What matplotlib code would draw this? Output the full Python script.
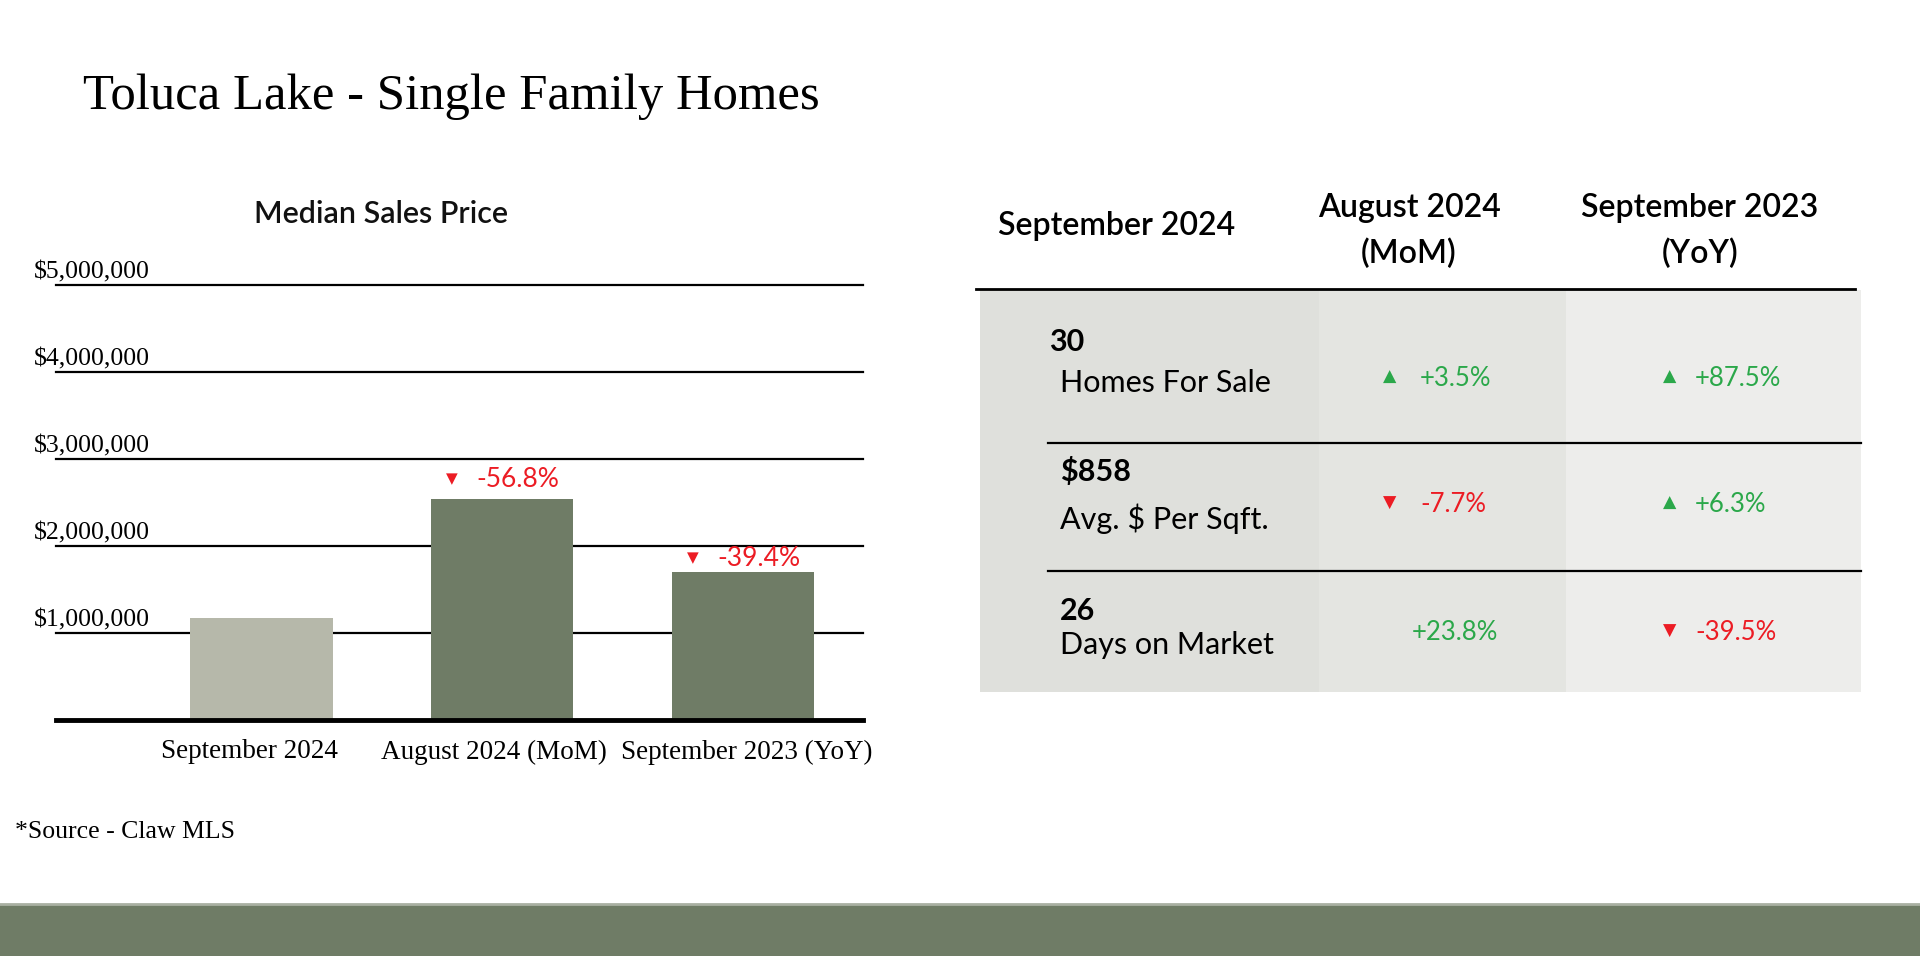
import matplotlib
matplotlib.use("Agg")
import matplotlib.pyplot as plt
from matplotlib.patches import Rectangle

# chart data
categories = ["September 2024", "August 2024 (MoM)", "September 2023 (YoY)"]
prices = [1170000, 2540000, 1700000]
price_changes = [None, "-56.8%", "-39.4%"]
y_ticks = [1000000, 2000000, 3000000, 4000000, 5000000]

# table data
headers = [["September 2024"], ["August 2024", "(MoM)"], ["September 2023", "(YoY)"]]
metric_values = ["30", "$858", "26"]
metric_names = ["Homes For Sale", "Avg. $ Per Sqft.", "Days on Market"]
mom_changes = ["+3.5%", "-7.7%", "+23.8%"]
mom_arrows = ["up", "down", None]
yoy_changes = ["+87.5%", "+6.3%", "-39.5%"]
yoy_arrows = ["up", "up", "down"]

olive = "#6f7c66"
light_bar = "#b6b8aa"
green = "#2ba84a"
red = "#ec1c24"
serif = "Liberation Serif"
sans = "Lato"

W, H = 1920, 956
fig = plt.figure(figsize=(W / 100, H / 100), dpi=100)
fig.patch.set_facecolor("white")

# layout axes in pixel coords (y down)
lay = fig.add_axes([0, 0, 1, 1], zorder=0)
lay.set_xlim(0, W)
lay.set_ylim(H, 0)
lay.axis("off")

lay.text(83, 109, "Toluca Lake - Single Family Homes", fontsize=36.5, family=serif,
         va="baseline", ha="left", color="black")
lay.text(381, 223, "Median Sales Price", fontsize=22, family=sans, fontweight="semibold",
         va="baseline", ha="center", color="#111111")
lay.text(15, 838, "*Source - Claw MLS", fontsize=18.5, family=serif, va="baseline", ha="left")

# bottom band
lay.add_patch(Rectangle((0, 904), W, H - 904, color=olive, lw=0))
lay.plot([0, W], [904, 904], color="#a9b0a2", lw=2)

# ---- bar chart ----
ax = fig.add_axes([56 / W, 1 - 720 / H, 807 / W, 435 / H], zorder=2)
ax.patch.set_alpha(0)
xs = list(range(len(categories)))
colors = [light_bar, olive, olive]
for y in y_ticks:
    ax.axhline(y, color="black", lw=1.6, zorder=1, clip_on=False)
ax.axhline(0, color="black", lw=3.5, zorder=3, clip_on=False)
ax.bar(xs, prices, width=0.593, color=colors, zorder=2)
ax.set_xlim(-0.851, 2.498)
ax.set_ylim(0, 5000000)
for s in ax.spines.values():
    s.set_visible(False)
ax.set_yticks([])
ax.set_xticks(xs)
ax.set_xticklabels(categories, fontsize=19.5, family=serif)
ax.tick_params(axis="x", length=0, pad=14)
label_shift = [-12, -8, 4]
for lbl, dx in zip(ax.get_xticklabels(), label_shift):
    lbl.set_transform(lbl.get_transform() + matplotlib.transforms.Affine2D().translate(dx, 0))

for y in y_ticks:
    ax.annotate("${:,}".format(y), xy=(0, y), xycoords=("axes fraction", "data"),
                xytext=(-22, 2), textcoords="offset pixels", fontsize=18.5,
                family=serif, ha="left", va="bottom")

label_rise = [0, 20, 14]
for x, p, c, r in zip(xs, prices, price_changes, label_rise):
    if c is None:
        continue
    ax.annotate("\u25bc", xy=(x, p), xytext=(-50, r), textcoords="offset pixels",
                fontsize=11, color=red, ha="center", va="center", family="DejaVu Sans")
    ax.annotate(c, xy=(x, p), xytext=(-26, r), textcoords="offset pixels",
                fontsize=19, color=red, ha="left", va="center", family=sans)

# ---- table ----
col_edges = [980, 1319, 1566, 1861]
col_bg = ["#dfe0dc", "#e4e5e1", "#ededeb"]
for i in range(3):
    lay.add_patch(Rectangle((col_edges[i], 290), col_edges[i + 1] - col_edges[i], 402,
                            color=col_bg[i], lw=0))
lay.plot([976, 1855], [289, 289], color="black", lw=2)
for y in [443, 571]:
    lay.plot([1048, 1861], [y, y], color="black", lw=1.6)

header_x = [1117, 1409, 1700]
header_base = [[235], [217, 263], [217, 263]]
for lines, hx, bases in zip(headers, header_x, header_base):
    for line, by in zip(lines, bases):
        lay.text(hx, by, line, fontsize=23, family=sans, fontweight="semibold",
                 ha="center", va="baseline")

value_base = [351, 481, 620]
name_base = [392, 529, 654]
change_base = [386, 512, 640]
value_x = [1049, 1060, 1060]
for i in range(3):
    lay.text(value_x[i], value_base[i], metric_values[i], fontsize=22, family=sans,
             fontweight="bold", ha="left", va="baseline")
    lay.text(1060, name_base[i], metric_names[i], fontsize=22, family=sans,
             ha="left", va="baseline")
    for change, arrow, tri_x, txt_x in [(mom_changes[i], mom_arrows[i], 1390, 1420),
                                         (yoy_changes[i], yoy_arrows[i], 1670, 1695)]:
        col = red if change.startswith("-") else green
        if arrow is None:
            txt_x = txt_x - 8
        else:
            glyph = "\u25b2" if arrow == "up" else "\u25bc"
            lay.text(tri_x, change_base[i] - 9, glyph, fontsize=12.5, color=col,
                     ha="center", va="center", family="DejaVu Sans")
        lay.text(txt_x, change_base[i], change, fontsize=18.5, color=col, family=sans,
                 ha="left", va="baseline")

fig.savefig("out.png", dpi=100, facecolor="white")
